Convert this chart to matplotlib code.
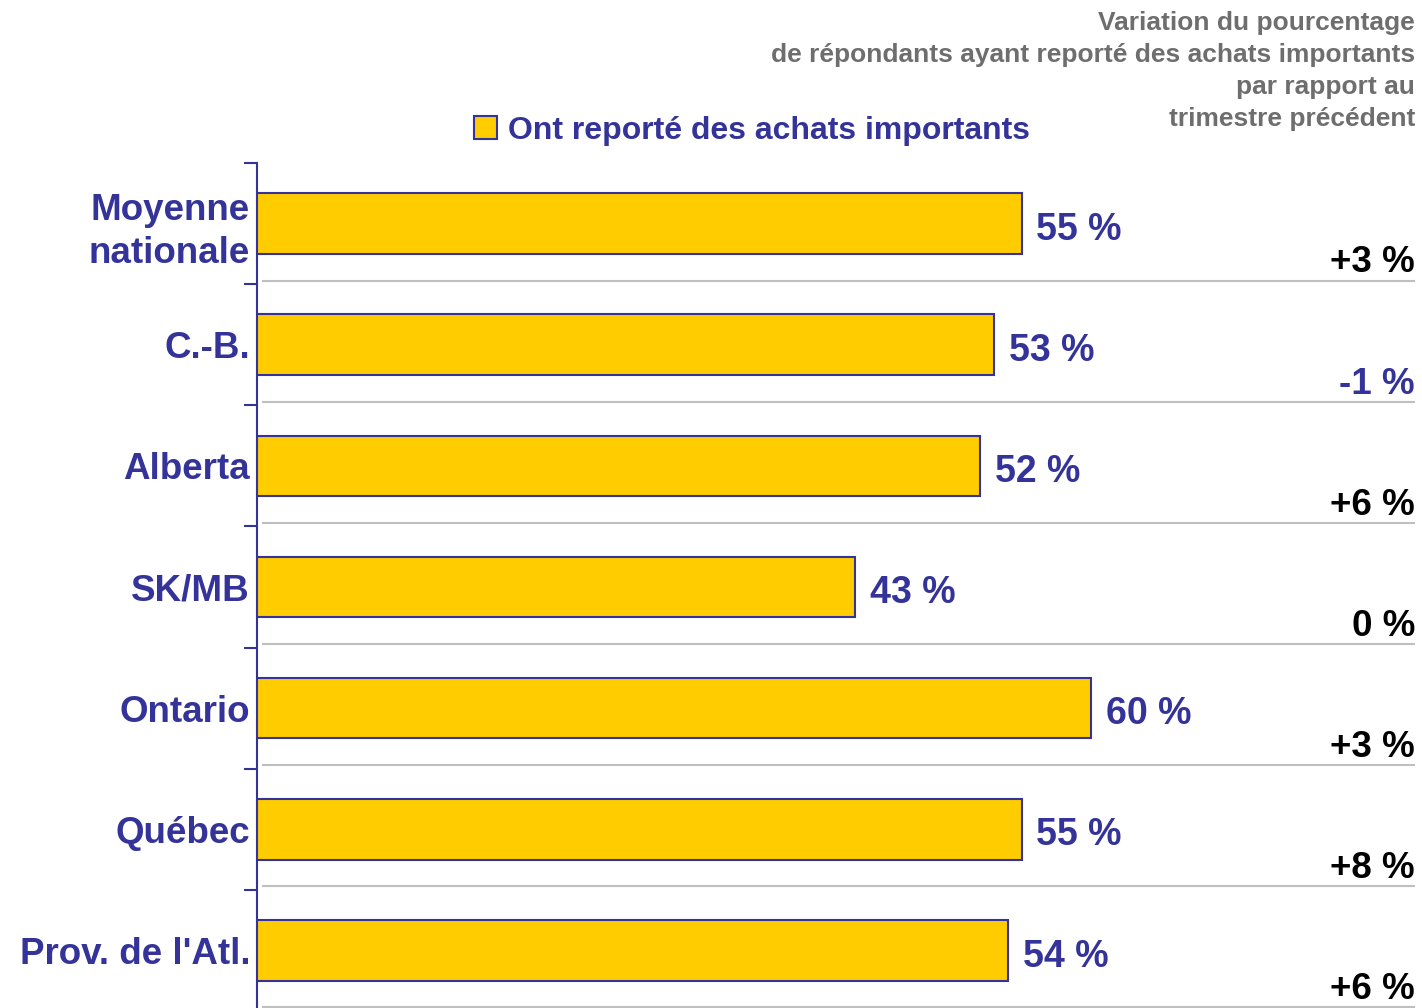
import matplotlib
matplotlib.use("Agg")
import matplotlib.pyplot as plt
import matplotlib.transforms as mtransforms
import numpy as np

plt.rcParams['font.family'] = ['Liberation Sans', 'DejaVu Sans']
plt.rcParams['font.weight'] = 'bold'

regions = ["Moyenne\nnationale", "C.-B.", "Alberta", "SK/MB", "Ontario", "Québec", "Prov. de l'Atl."]
achats = [55, 53, 52, 43, 60, 55, 54]
variation = ["+3 %", "-1 %", "+6 %", "0 %", "+3 %", "+8 %", "+6 %"]
header = ["Variation du pourcentage",
          "de répondants ayant reporté des achats importants",
          "par rapport au",
          "trimestre précédent"]
legend_label = "Ont reporté des achats importants"

BLUE = '#333399'
GOLD = '#FFCC00'
GREY_LINE = '#bfbfbf'
GREY_TEXT = '#6e6e6e'

W, H = 1422, 1008
fig = plt.figure(figsize=(W / 100, H / 100), dpi=100)
ax = fig.add_axes([257 / W, -3 / H, 1158 / W, 848 / H])

y = np.arange(len(regions))
bars = ax.barh(y, achats, height=0.5, color=GOLD, edgecolor=BLUE,
               linewidth=1.5, label=legend_label, zorder=3)

ax.set_ylim(len(regions) - 0.5, -0.5)
ax.set_xlim(0, 1158 / 13.9)

# labels at bar centres, tick marks between categories
ax.set_yticks(y)
ax.set_yticklabels(regions, fontsize=26.5, color=BLUE, fontweight='bold')
for lab in ax.get_yticklabels():
    lab.set_linespacing(1.3)
# the two-line label sits a little higher in the original
first = ax.get_yticklabels()[0]
first.set_transform(first.get_transform() +
                    mtransforms.ScaledTranslation(0, 6 / 72, fig.dpi_scale_trans))
ax.tick_params(axis='y', which='major', length=0, pad=5)
ax.set_yticks(np.arange(-0.5, len(regions), 1), minor=True)
ax.tick_params(axis='y', which='minor', length=9.5, width=1.5, color=BLUE)

ax.xaxis.set_visible(False)
for s in ['top', 'right', 'bottom']:
    ax.spines[s].set_visible(False)
ax.spines['left'].set_color(BLUE)
ax.spines['left'].set_linewidth(1.5)

# value labels
for b, v in zip(bars, achats):
    ax.annotate(f"{v} %", (v, b.get_y() + b.get_height() / 2),
                xytext=(10.8, -1.5), textcoords='offset points',
                ha='left', va='center_baseline', fontsize=27, color=BLUE, fontweight='bold')

# change column with separator lines
tr = ax.get_yaxis_transform()
for i, txt in enumerate(variation):
    ysep = i + 0.47
    ax.hlines(ysep, 5 / 1158, 1.0, transform=tr, color=GREY_LINE, linewidth=1.5, clip_on=False)
    col = BLUE if txt.startswith('-') else 'black'
    ax.annotate(txt, (1.0, ysep), xycoords=tr, xytext=(0, 5.8), textcoords='offset points',
                ha='right', va='baseline', fontsize=26.5, color=col, fontweight='bold')

# header in top right
for k, line in enumerate(header):
    fig.text(1415 / W, 1 - (23 + 32 * k) / H, line, ha='right', va='center',
             fontsize=19, color=GREY_TEXT, fontweight='bold')

fig.legend(handles=[bars], labels=[legend_label], loc='center left',
           bbox_to_anchor=(474 / W, 1 - 131 / H), frameon=False,
           prop={'weight': 'bold', 'size': 23}, labelcolor=BLUE,
           handlelength=0.72, handleheight=0.72, handletextpad=0.35,
           borderpad=0, borderaxespad=0)

fig.savefig("out.png", dpi=100)
